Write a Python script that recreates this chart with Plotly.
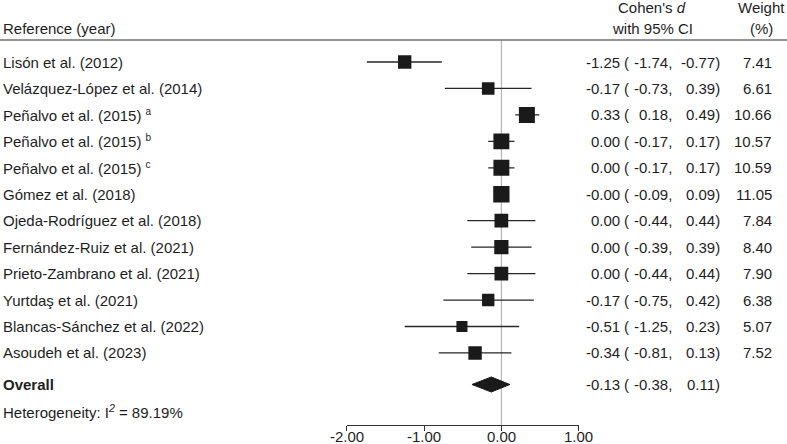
import plotly.graph_objects as go

# ---------------- data ----------------
studies = [
    "Lisón et al. (2012)",
    "Velázquez-López et al. (2014)",
    "Peñalvo et al. (2015) <sup><span style='font-size:10px'>a</span></sup>",
    "Peñalvo et al. (2015) <sup><span style='font-size:10px'>b</span></sup>",
    "Peñalvo et al. (2015) <sup><span style='font-size:10px'>c</span></sup>",
    "Gómez et al. (2018)",
    "Ojeda-Rodríguez et al. (2018)",
    "Fernández-Ruiz et al. (2021)",
    "Prieto-Zambrano et al. (2021)",
    "Yurtdaş et al. (2021)",
    "Blancas-Sánchez et al. (2022)",
    "Asoudeh et al. (2023)",
]
effect = [-1.25, -0.17, 0.33, 0.00, 0.00, -0.00, 0.00, 0.00, 0.00, -0.17, -0.51, -0.34]
ci_low = [-1.74, -0.73, 0.18, -0.17, -0.17, -0.09, -0.44, -0.39, -0.44, -0.75, -1.25, -0.81]
ci_high = [-0.77, 0.39, 0.49, 0.17, 0.17, 0.09, 0.44, 0.39, 0.44, 0.42, 0.23, 0.13]
weight = [7.41, 6.61, 10.66, 10.57, 10.59, 11.05, 7.84, 8.40, 7.90, 6.38, 5.07, 7.52]

overall_effect = -0.13
overall_low = -0.38
overall_high = 0.11
heterogeneity_i2 = 89.19

x_tickvals = [-2, -1, 0, 1]
x_ticktext = ["-2.00", "-1.00", "0.00", "1.00"]

# ---------------- layout constants (pixels) ----------------
W, H = 787, 444
PLOT_H = 425           # bottom of plotting region (axis line)
ROW0, ROW_H = 62.0, 26.45
OVERALL_Y = 384.5
HET_Y = 411
HEAD1_Y, HEAD2_Y = 7.5, 28
HEADLINE_Y = 40
TICKLABEL_Y = 436
X_LEFT_PX, X_RIGHT_PX = 346.7, 578.7
FONT = "Liberation Sans, Arial, sans-serif"
FS = 15
TXT = "#1e1e1e"

COL_EST_R = 619.5
COL_PAREN_L = 624.0
COL_LOW_R = 671.7
COL_HIGH_R = 720.3
COL_W_R = 772.3
COL_HEAD_CI = 652
COL_HEAD_W = 761.5

row_y = [ROW0 + ROW_H * i for i in range(len(studies))]

def fmt(v):
    return f"{v:.2f}"

fig = go.Figure()

# CI lines + squares
fig.add_trace(go.Scatter(
    x=effect, y=row_y, mode="markers",
    marker=dict(symbol="square", size=[4.9 * w ** 0.5 for w in weight],
                color="#1a1a1a", opacity=1, line=dict(width=0)),
    error_x=dict(type="data", symmetric=False,
                 array=[h - e for h, e in zip(ci_high, effect)],
                 arrayminus=[e - l for e, l in zip(effect, ci_low)],
                 width=0, thickness=1.3, color="#262626"),
    hoverinfo="skip", showlegend=False,
))

# overall diamond
DH = 7.5
fig.add_trace(go.Scatter(
    x=[overall_low, overall_effect, overall_high, overall_effect, overall_low],
    y=[OVERALL_Y, OVERALL_Y - DH, OVERALL_Y, OVERALL_Y + DH, OVERALL_Y],
    mode="lines", fill="toself", fillcolor="#1a1a1a",
    line=dict(color="#1a1a1a", width=1), hoverinfo="skip", showlegend=False,
))

shapes = [
    dict(type="line", xref="x", yref="y", x0=0, x1=0, y0=HEADLINE_Y, y1=PLOT_H,
         line=dict(color="#a8a8a8", width=1), layer="below"),
    dict(type="line", xref="paper", yref="y", x0=0, x1=1, y0=HEADLINE_Y, y1=HEADLINE_Y,
         line=dict(color="#707070", width=1.6)),
]

ann = []

def add(text, xpx, ypx, anchor="left", bold=False):
    ann.append(dict(text=f"<b>{text}</b>" if bold else text,
                    x=xpx / W, xref="paper", y=ypx, yref="y",
                    xanchor=anchor, yanchor="middle", showarrow=False,
                    borderpad=0, borderwidth=0,
                    font=dict(family=FONT, size=FS, color=TXT)))

# headers
add("Reference (year)", 3, HEAD2_Y)
add("Cohen's <i>d</i>", COL_HEAD_CI, HEAD1_Y, "center")
add("with 95% CI", COL_HEAD_CI, HEAD2_Y, "center")
add("Weight", COL_HEAD_W, HEAD1_Y, "center")
add("(%)", COL_HEAD_W, HEAD2_Y, "center")

for s, e, lo, hi, w, y in zip(studies, effect, ci_low, ci_high, weight, row_y):
    add(s, 3, y)
    add(fmt(e), COL_EST_R, y, "right")
    add("(", COL_PAREN_L, y, "left")
    add(fmt(lo) + ",", COL_LOW_R, y, "right")
    add(fmt(hi) + ")", COL_HIGH_R, y, "right")
    add(fmt(w), COL_W_R, y, "right")

add("Overall", 3, OVERALL_Y, bold=True)
add(fmt(overall_effect), COL_EST_R, OVERALL_Y, "right")
add("(", COL_PAREN_L, OVERALL_Y, "left")
add(fmt(overall_low) + ",", COL_LOW_R, OVERALL_Y, "right")
add(fmt(overall_high) + ")", COL_HIGH_R, OVERALL_Y, "right")
add(f"Heterogeneity: I<sup><i>2</i></sup> = {heterogeneity_i2:.2f}%", 3, HET_Y)

# x tick labels placed through the x axis scale (y in paper units below the axis)
for tv, tt in zip(x_tickvals, x_ticktext):
    ann.append(dict(text=tt, x=tv, xref="x", y=(PLOT_H - TICKLABEL_Y) / PLOT_H, yref="paper",
                    xanchor="center", yanchor="middle", showarrow=False,
                    borderpad=0, borderwidth=0,
                    font=dict(family=FONT, size=FS, color=TXT)))

fig.update_layout(
    width=W, height=H, template="none",
    paper_bgcolor="white", plot_bgcolor="rgba(0,0,0,0)",
    margin=dict(l=0, r=0, t=0, b=H - PLOT_H, pad=0),
    xaxis=dict(domain=[X_LEFT_PX / W, X_RIGHT_PX / W], range=[-2, 1],
               showgrid=False, zeroline=False, showline=True, linecolor="#333333",
               linewidth=1, ticks="outside", ticklen=5, tickcolor="#333333",
               showticklabels=False, tickvals=x_tickvals, fixedrange=True),
    yaxis=dict(domain=[0, 1], range=[PLOT_H, 0], visible=False, showgrid=False,
               zeroline=False, fixedrange=True),
    shapes=shapes, annotations=ann, showlegend=False,
)

fig.write_html(
    "out.html",
    config={"displayModeBar": False},
    post_script="document.body.style.margin='0';document.body.style.overflow='hidden';",
)
